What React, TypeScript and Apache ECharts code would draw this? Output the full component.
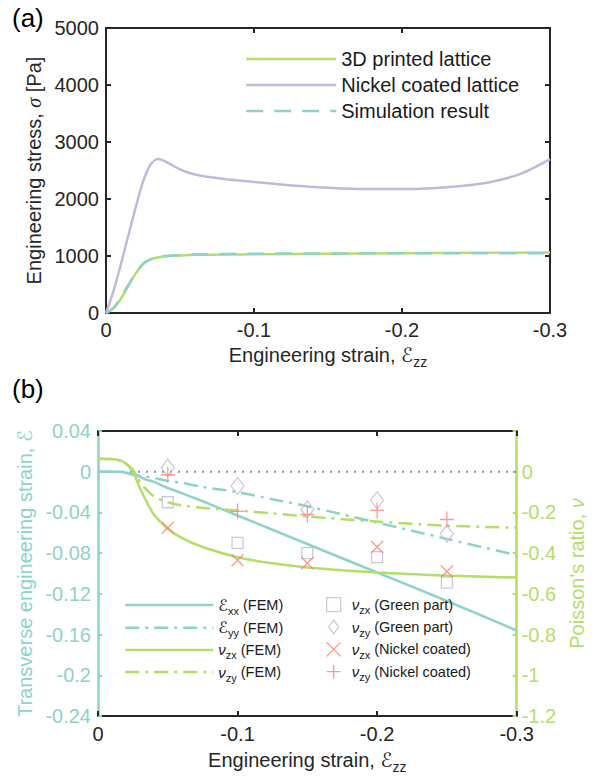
import React, { useEffect, useRef } from 'react';
import * as echarts from 'echarts';

// ---------- Panel (a) data ----------
const strainPrinted = [0, -0.005, -0.01, -0.015, -0.02, -0.025, -0.03, -0.035, -0.04, -0.05, -0.06, -0.08, -0.1, -0.15, -0.2, -0.25, -0.3];
const stressPrinted = [0, 80, 250, 470, 690, 860, 940, 975, 995, 1010, 1020, 1025, 1030, 1040, 1048, 1055, 1060];
const stressSimulation = [0, 90, 270, 490, 700, 860, 940, 980, 1000, 1015, 1025, 1035, 1040, 1045, 1048, 1050, 1050];
const strainNickel = [0, -0.005, -0.01, -0.015, -0.02, -0.025, -0.03, -0.035, -0.04, -0.05, -0.06, -0.08, -0.1, -0.12, -0.14, -0.16, -0.18, -0.2, -0.22, -0.24, -0.26, -0.28, -0.3];
const stressNickel = [0, 380, 850, 1350, 1850, 2300, 2600, 2700, 2660, 2520, 2430, 2350, 2300, 2250, 2210, 2185, 2175, 2175, 2190, 2230, 2300, 2440, 2700];

// ---------- Panel (b) data ----------
const strainFem = [0, -0.01, -0.015, -0.02, -0.025, -0.03, -0.035, -0.04, -0.05, -0.06, -0.075, -0.1, -0.125, -0.15, -0.2, -0.25, -0.3];
const epsXX = [0, 0, 0, -0.001, -0.003, -0.005, -0.008, -0.01, -0.016, -0.021, -0.029, -0.043, -0.057, -0.071, -0.099, -0.127, -0.156];
const epsYY = [0, 0, 0, -0.001, -0.002, -0.004, -0.005, -0.006, -0.009, -0.011, -0.015, -0.02, -0.027, -0.034, -0.05, -0.066, -0.082];
const nuZXFem = [0.064, 0.062, 0.058, 0.04, 0.0, -0.08, -0.15, -0.21, -0.28, -0.325, -0.37, -0.42, -0.45, -0.47, -0.495, -0.51, -0.52];
const nuZYFem = [0.064, 0.062, 0.055, 0.04, 0.01, -0.05, -0.09, -0.12, -0.15, -0.165, -0.178, -0.19, -0.205, -0.22, -0.245, -0.265, -0.275];

const strainMarkers = [-0.05, -0.1, -0.15, -0.2, -0.25];
const nuZXGreen = [-0.15, -0.35, -0.4, -0.42, -0.545];
const nuZYGreen = [0.02, -0.07, -0.185, -0.14, -0.305];
const nuZXNickel = [-0.275, -0.435, -0.45, -0.37, -0.49];
const nuZYNickel = [-0.015, -0.195, -0.21, -0.19, -0.235];

const zeroLineX = [0, -0.3];
const zeroLineY = [0, 0];

const FONT = "'Liberation Sans', Arial, Helvetica, sans-serif";
const BLACK = '#262626';
const TEAL = '#8dd3c7';
const GREEN = '#b3de69';
const LAV = '#bebada';
const RED = '#fb8072';

const pairs = (xs: number[], ys: number[]) => xs.map((x, i) => [x, ys[i]]);
const fmt = (v: number) => String(Math.round(v * 100) / 100);

const legendNames: Record<string, string> = {
  exx: '{e|ℰ}{s|xx}{t| (FEM)}',
  eyy: '{e|ℰ}{s|yy}{t| (FEM)}',
  vzx: '{v|ν}{s|zx}{t| (FEM)}',
  vzy: '{v|ν}{s|zy}{t| (FEM)}',
  vzxG: '{v|ν}{s|zx}{t| (Green part)}',
  vzyG: '{v|ν}{s|zy}{t| (Green part)}',
  vzxN: '{v|ν}{s|zx}{t| (Nickel coated)}',
  vzyN: '{v|ν}{s|zy}{t| (Nickel coated)}',
};

function makeOption(): any {
  const tickStyle = (color: string) => ({ show: true, inside: true, length: 5, lineStyle: { color, width: 2 } });
  const xNameRich = {
    t: { fontSize: 20, fontFamily: FONT, color: BLACK, lineHeight: 28 },
    e: { fontSize: 20, fontFamily: "'DejaVu Sans'", fontStyle: 'italic', color: BLACK, lineHeight: 28 },
    s: { fontSize: 14, fontFamily: FONT, color: BLACK, lineHeight: 14, verticalAlign: 'bottom' },
  };
  const xBase = (grid: number, top: boolean, withName: boolean, gap: number) => ({
    type: 'value',
    gridIndex: grid,
    min: -0.3,
    max: 0,
    interval: 0.1,
    inverse: true,
    position: top ? 'top' : 'bottom',
    axisLine: { show: true, onZero: false, lineStyle: { color: BLACK, width: 2 } },
    axisTick: tickStyle(BLACK),
    axisLabel: { show: !top, fontSize: 20, color: BLACK, margin: grid === 0 ? 7 : 8, fontFamily: FONT, formatter: fmt },
    splitLine: { show: false },
    name: withName ? '{t|Engineering strain, }{e|ℰ}{s|zz}' : '',
    nameLocation: 'middle',
    nameGap: gap,
    nameTextStyle: { rich: xNameRich },
  });

  const rich2 = {
    t: { fontSize: 14.5, fontFamily: FONT, color: '#1a1a1a', lineHeight: 22 },
    e: { fontSize: 16, fontFamily: "'DejaVu Sans'", fontStyle: 'italic', color: '#1a1a1a', lineHeight: 22 },
    v: { fontSize: 15, fontFamily: FONT, fontStyle: 'italic', color: '#1a1a1a', lineHeight: 22 },
    s: { fontSize: 11, fontFamily: FONT, color: '#1a1a1a', lineHeight: 11, verticalAlign: 'bottom' },
  };
  const rich3 = {
    ...rich2,
    v: { ...rich2.v, padding: [0, 0, 0, 6] },
  };

  const lineSeries = (name: string, xi: number, yi: number, xs: number[], ys: number[], color: string, type: any, z = 2) => ({
    type: 'line',
    name,
    xAxisIndex: xi,
    yAxisIndex: yi,
    data: pairs(xs, ys),
    symbol: 'none',
    smooth: 0.3,
    z,
    lineStyle: { color, width: 2.5, type },
    itemStyle: { color },
  });

  const scatterSeries = (name: string, ys: number[], color: string, symbol: string, size: number[]) => ({
    type: 'scatter',
    name,
    xAxisIndex: 2,
    yAxisIndex: 3,
    data: pairs(strainMarkers, ys),
    symbol,
    symbolSize: size,
    z: 5,
    itemStyle: { color: 'transparent', borderColor: color, borderWidth: 1.3 },
  });

  const dashDot = [14, 6, 3, 6];

  return {
    animation: false,
    textStyle: { fontFamily: FONT },
    grid: [
      { left: 106, top: 28, width: 444, height: 285 },
      { left: 98, top: 431, width: 433, height: 285 },
    ],
    xAxis: [
      xBase(0, false, true, 28),
      xBase(0, true, false, 0),
      xBase(1, false, true, 30),
      xBase(1, true, false, 0),
    ],
    yAxis: [
      {
        type: 'value', gridIndex: 0, min: 0, max: 5000, interval: 1000, position: 'left',
        axisLine: { show: true, onZero: false, lineStyle: { color: BLACK, width: 2 } },
        axisTick: tickStyle(BLACK),
        axisLabel: { fontSize: 20, color: BLACK, margin: 7, fontFamily: FONT, formatter: (v: number) => String(v) },
        splitLine: { show: false },
        name: '{t|Engineering stress, }{i|σ}{t| [Pa]}',
        nameLocation: 'middle',
        nameGap: 59,
        nameTextStyle: {
          rich: {
            t: { fontSize: 20, fontFamily: FONT, color: BLACK, lineHeight: 20 },
            i: { fontSize: 20, fontFamily: "'Liberation Serif'", fontStyle: 'italic', color: BLACK, lineHeight: 20 },
          },
        },
      },
      {
        type: 'value', gridIndex: 0, min: 0, max: 5000, interval: 1000, position: 'right',
        axisLine: { show: true, onZero: false, lineStyle: { color: BLACK, width: 2 } },
        axisTick: tickStyle(BLACK),
        axisLabel: { show: false },
        splitLine: { show: false },
      },
      {
        type: 'value', gridIndex: 1, min: -0.24, max: 0.04, interval: 0.04, position: 'left',
        axisLine: { show: true, onZero: false, lineStyle: { color: TEAL, width: 2.5 } },
        axisTick: { show: true, inside: true, length: 4, lineStyle: { color: TEAL, width: 2 } },
        axisLabel: { fontSize: 20, color: TEAL, margin: 7, fontFamily: FONT, formatter: fmt },
        splitLine: { show: false },
        name: '{t|Transverse engineering strain, }{e|ℰ}',
        nameLocation: 'middle',
        nameGap: 57,
        nameTextStyle: {
          rich: {
            t: { fontSize: 20, fontFamily: FONT, color: TEAL, lineHeight: 20 },
            e: { fontSize: 20, fontFamily: "'DejaVu Sans'", fontStyle: 'italic', color: TEAL, lineHeight: 20 },
          },
        },
      },
      {
        type: 'value', gridIndex: 1, min: -1.2, max: 0.2, interval: 0.2, position: 'right',
        axisLine: { show: true, onZero: false, lineStyle: { color: GREEN, width: 2.5 } },
        axisTick: { show: true, inside: true, length: 4, lineStyle: { color: GREEN, width: 2 } },
        axisLabel: { fontSize: 20, color: GREEN, margin: 5, fontFamily: FONT, formatter: (v: number) => (v > 0.1 ? '' : fmt(v)) },
        splitLine: { show: false },
        name: '{t|Poisson\'s ratio, }{v|ν}',
        nameLocation: 'middle',
        nameGap: 46,
        nameRotate: 90,
        nameTextStyle: {
          rich: {
            t: { fontSize: 20, fontFamily: FONT, color: GREEN, lineHeight: 20 },
            v: { fontSize: 20, fontFamily: FONT, fontStyle: 'italic', color: GREEN, lineHeight: 20 },
          },
        },
      },
    ],
    legend: [
      {
        data: ['3D printed lattice', 'Nickel coated lattice', 'Simulation result'],
        orient: 'vertical', left: 245, top: 49, padding: 0,
        itemWidth: 90, itemHeight: 14, itemGap: 6,
        selectedMode: false,
        lineStyle: { width: 2.5 },
        itemStyle: { opacity: 0 },
        textStyle: { fontSize: 20, color: '#1a1a1a', fontFamily: FONT, lineHeight: 20 },
      },
      {
        data: ['exx', 'eyy', 'vzx', 'vzy'],
        orient: 'vertical', left: 124, top: 597, padding: 0,
        itemWidth: 88, itemHeight: 14, itemGap: 3.7,
        selectedMode: false,
        lineStyle: { width: 2.5 },
        itemStyle: { opacity: 0 },
        formatter: (n: string) => legendNames[n],
        textStyle: { rich: rich2 },
      },
      {
        data: ['vzxG', 'vzyG', 'vzxN', 'vzyN'],
        orient: 'vertical', left: 326, top: 597, padding: 0,
        itemWidth: 14, itemHeight: 14, itemGap: 3.7,
        selectedMode: false,
        itemStyle: { borderWidth: 1.3 },
        formatter: (n: string) => legendNames[n],
        textStyle: { rich: rich3 },
      },
    ],
    graphic: [
      { type: 'text', left: 12, top: 5, style: { text: '(a)', fontSize: 26, fontFamily: FONT, fill: '#000' } },
      { type: 'text', left: 12, top: 376, style: { text: '(b)', fontSize: 26, fontFamily: FONT, fill: '#000' } },
    ],
    series: [
      lineSeries('3D printed lattice', 0, 0, strainPrinted, stressPrinted, GREEN, 'solid', 2),
      lineSeries('Nickel coated lattice', 0, 0, strainNickel, stressNickel, LAV, 'solid', 2),
      lineSeries('Simulation result', 0, 0, strainPrinted, stressSimulation, TEAL, [17, 11], 3),
      {
        type: 'line', name: 'zero', xAxisIndex: 2, yAxisIndex: 2,
        data: pairs(zeroLineX, zeroLineY), symbol: 'none', z: 1,
        lineStyle: { color: '#8c8c8c', width: 2, type: [2, 6] },
      },
      lineSeries('exx', 2, 2, strainFem, epsXX, TEAL, 'solid'),
      lineSeries('eyy', 2, 2, strainFem, epsYY, TEAL, dashDot),
      lineSeries('vzx', 2, 3, strainFem, nuZXFem, GREEN, 'solid'),
      lineSeries('vzy', 2, 3, strainFem, nuZYFem, GREEN, dashDot),
      scatterSeries('vzxG', nuZXGreen, LAV, 'path://M0,0H10V10H0Z', [11, 11]),
      scatterSeries('vzyG', nuZYGreen, LAV, 'path://M5,0L10,7L5,14L0,7Z', [13, 17]),
      scatterSeries('vzxN', nuZXNickel, RED, 'path://M0,0L10,10M10,0L0,10', [12, 12]),
      scatterSeries('vzyN', nuZYNickel, RED, 'path://M5,0V10M0,5H10', [14, 16]),
    ],
  };
}

export default function App() {
  const ref = useRef<HTMLDivElement>(null);
  useEffect(() => {
    if (!ref.current) return;
    const chart = echarts.init(ref.current, undefined, { renderer: 'svg' });
    chart.setOption(makeOption());
    return () => chart.dispose();
  }, []);
  return (
    <div
      ref={ref}
      style={{ position: 'absolute', left: 0, top: 0, width: 595, height: 780, background: '#fff' }}
    />
  );
}
